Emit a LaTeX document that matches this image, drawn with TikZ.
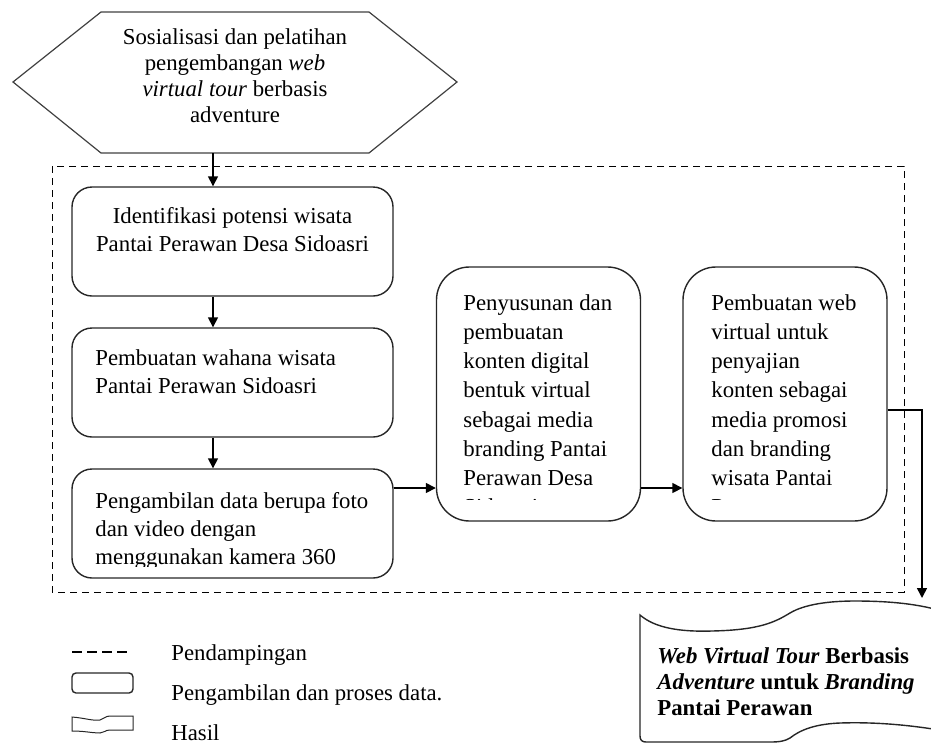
\documentclass[tikz,border=0pt]{standalone}
\usepackage{fontspec}
\setmainfont{Liberation Serif}
\usepackage{tikz}
\usetikzlibrary{arrows.meta}

\begin{document}
\begin{tikzpicture}[x=0.5pt, y=-0.5pt,
  every node/.style={font=\fontsize{11.4pt}{14pt}\selectfont, inner sep=0pt},
  garis/.style={draw=black!85, line width=0.7pt},
  prosesbox/.style={garis, rounded corners=10pt, minimum width=160.5pt, minimum height=54.5pt},
  tinggibox/.style={garis, rounded corners=16.5pt, minimum width=102pt, minimum height=127pt},
  alur/.style={line width=0.8pt, -{Triangle[length=5pt,width=5pt]}},
  pendamping/.style={line width=0.5pt, dash pattern=on 3.5pt off 2.5pt},
  ]
  \useasboundingbox (0,0) rectangle (931,744);

  % sosialisasi
  \draw[black!75, line width=0.6pt] (13,82) -- (101,12) -- (369,12) -- (457,82) -- (369,153) -- (101,153) -- cycle;
  \coordinate (sosial) at (213,153);
  \node[anchor=north, align=center, font=\fontsize{11.4pt}{13pt}\selectfont] (teks-sosial) at (235,28)
    {Sosialisasi dan pelatihan\\ pengembangan \textit{web}\\ \textit{virtual tour} berbasis\\ adventure};

  \draw[pendamping] (52,166) rectangle (904,592);

  \node[prosesbox] (identifikasi) at (232.5,241.5) {};
  \node[prosesbox] (wahana) at (232.5,382.5) {};
  \node[prosesbox] (pengambilan) at (232.5,523.5) {};
  \node[tinggibox] (penyusunan) at (538.5,394) {};
  \node[tinggibox] (webvirtual) at (785,394) {};

  \node[anchor=north, align=center] (teks-identifikasi) at (232.5,207)
    {Identifikasi potensi wisata\\ Pantai Perawan Desa Sidoasri};
  \node[anchor=north west, align=left] (teks-wahana) at (95,349)
    {Pembuatan wahana wisata\\ Pantai Perawan Sidoasri};
  \begin{scope}
    \clip (80,470) rectangle (390,566);
    \node[anchor=north west, align=left] (teks-pengambilan) at (95,492)
      {Pengambilan data berupa foto\\ dan video dengan\\ menggunakan kamera 360};
  \end{scope}
  \begin{scope}
    \clip (445,270) rectangle (635,499);
    \node[anchor=north west, align=left, font=\fontsize{11.4pt}{14.6pt}\selectfont] (teks-penyusunan) at (463,294)
      {Penyusunan dan\\ pembuatan\\ konten digital\\ bentuk virtual\\ sebagai media\\ branding Pantai\\ Perawan Desa\\ Sidoasri};
  \end{scope}
  \begin{scope}
    \clip (690,270) rectangle (880,499);
    \node[anchor=north west, align=left, font=\fontsize{11.4pt}{14.6pt}\selectfont] (teks-webvirtual) at (711,294)
      {Pembuatan web\\ virtual untuk\\ penyajian\\ konten sebagai\\ media promosi\\ dan branding\\ wisata Pantai\\ Perawan};
  \end{scope}

  % hasil
  \begin{scope}
    \clip (0,0) rectangle (931,744);
    \draw[garis] (640,615) .. controls (655,628) and (680,632) .. (712,631)
      .. controls (760,630) and (775,622) .. (790,613)
      .. controls (805,604) and (830,601) .. (855,601)
      .. controls (890,601) and (920,604) .. (945,612) -- (945,731)
      .. controls (905,724) and (870,722) .. (840,723)
      .. controls (815,724) and (800,730) .. (790,738)
      .. controls (785,741) and (780,742) .. (770,742) -- (646,742)
      .. controls (642,742) and (640,740) .. (640,736) -- cycle;
  \end{scope}
  \coordinate (hasil) at (922,598);
  \node[anchor=north west, align=left, font=\fontsize{11.4pt}{13pt}\selectfont\bfseries] (teks-hasil) at (657,647)
    {\textit{Web Virtual Tour} Berbasis\\ \textit{Adventure} untuk \textit{Branding}\\ Pantai Perawan};

  \draw[alur] (sosial) -- (sosial |- identifikasi.north);
  \draw[alur] (identifikasi.south -| sosial) -- (wahana.north -| sosial);
  \draw[alur] (wahana.south -| sosial) -- (pengambilan.north -| sosial);
  \draw[alur] ([yshift=17.75pt]pengambilan.east) -- ([yshift=17.75pt]pengambilan.east -| penyusunan.west);
  \draw[alur] ([yshift=-47pt]penyusunan.east) -- ([yshift=-47pt]penyusunan.east -| webvirtual.west);
  \draw[alur] ([yshift=-8pt]webvirtual.east) -| (hasil);

  % keterangan
  \draw[line width=0.8pt, dash pattern=on 5pt off 2.5pt] (72,652) -- (128,652);
  \node[garis, rounded corners=2pt, minimum width=30.5pt, minimum height=10pt] (ket-proses) at (102.5,683) {};
  \draw[garis, line width=0.5pt] (72,717) .. controls (85,718) and (92,721) .. (100,720)
    .. controls (104,719) and (105,716) .. (110,716) -- (133,716) -- (133,730) -- (110,730)
    .. controls (105,730) and (104,733) .. (100,733) .. controls (92,733) and (85,731) .. (72,731) -- cycle;
  \node[anchor=base west] (ket1) at (171,660) {Pendampingan};
  \node[anchor=base west] (ket2) at (171,700) {Pengambilan dan proses data.};
  \node[anchor=base west] (ket3) at (171,740) {Hasil};

\end{tikzpicture}
\end{document}
